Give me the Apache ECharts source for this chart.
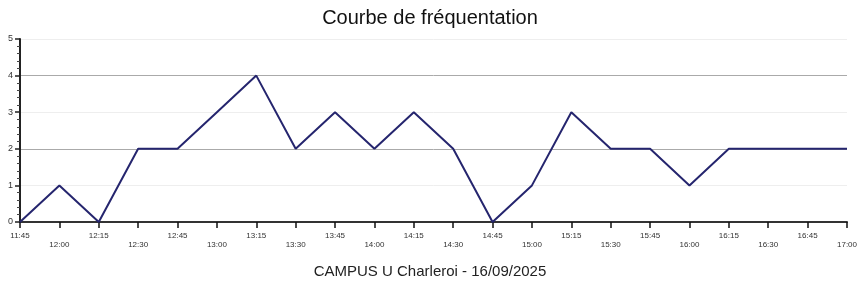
<!DOCTYPE html>
<html>
<head>
<meta charset="utf-8">
<script src="https://cdn.jsdelivr.net/npm/echarts@6/dist/echarts.min.js"></script>
<style>html,body{margin:0;padding:0;background:#fff;}#c{width:860px;height:284px;}</style>
</head>
<body>
<div id="c"></div>
<script>
const categories = ['11:45','12:00','12:15','12:30','12:45','13:00','13:15','13:30','13:45','14:00','14:15','14:30','14:45','15:00','15:15','15:30','15:45','16:00','16:15','16:30','16:45','17:00'];
const visits = [0,1,0,2,2,3,4,2,3,2,3,2,0,1,3,2,2,1,2,2,2,2];
const yTicks = [0,1,2,3,4,5];
const titleText = 'Courbe de fréquentation';
const subtitleText = 'CAMPUS U Charleroi - 16/09/2025';

const chart = echarts.init(document.getElementById('c'), null, {renderer:'canvas'});
chart.setOption({
  animation: false,
  backgroundColor: '#fff',
  title: [
    {text: titleText, left: 'center', top: 3, textStyle: {fontFamily: 'Liberation Sans, Arial', fontSize: 20, fontWeight: 'normal', color: '#111'}},
    {text: subtitleText, left: 'center', top: 259, textStyle: {fontFamily: 'Liberation Sans, Arial', fontSize: 15, fontWeight: 'normal', color: '#222'}}
  ],
  grid: {left: 20, right: 8, top: 39, bottom: 62, containLabel: false},
  xAxis: {
    type: 'category',
    data: categories,
    boundaryGap: false,
    axisLine: {lineStyle: {color: '#333', width: 2}},
    axisTick: {show: true, length: 6, interval: 0, lineStyle: {color: '#111', width: 1.5}},
    axisLabel: {
      interval: 0, fontSize: 8, color: '#333', margin: 9,
      fontFamily: 'Liberation Sans, Arial',
      formatter: (v, i) => (i % 2 ? '\n' + v : v),
      lineHeight: 9
    },
    splitLine: {show: false}
  },
  yAxis: {
    type: 'value',
    min: yTicks[0], max: yTicks[yTicks.length - 1], interval: 1,
    axisLine: {show: true, lineStyle: {color: '#222', width: 2}},
    axisTick: {show: true, length: 5, lineStyle: {color: '#222', width: 1.5}},
    minorTick: {show: true, splitNumber: 5, length: 3, lineStyle: {color: '#444', width: 1}},
    axisLabel: {fontSize: 9, color: '#333', margin: 7, fontFamily: 'Liberation Sans, Arial'},
    splitLine: {show: true, lineStyle: {color: ['#eee','#eee','#aaa','#eee','#aaa','#eee'], width: 1}}
  },
  series: [{
    type: 'line',
    data: visits,
    symbol: 'none',
    lineStyle: {color: '#25256e', width: 2},
    itemStyle: {color: '#25256e'}
  }]
});
</script>
</body>
</html>
